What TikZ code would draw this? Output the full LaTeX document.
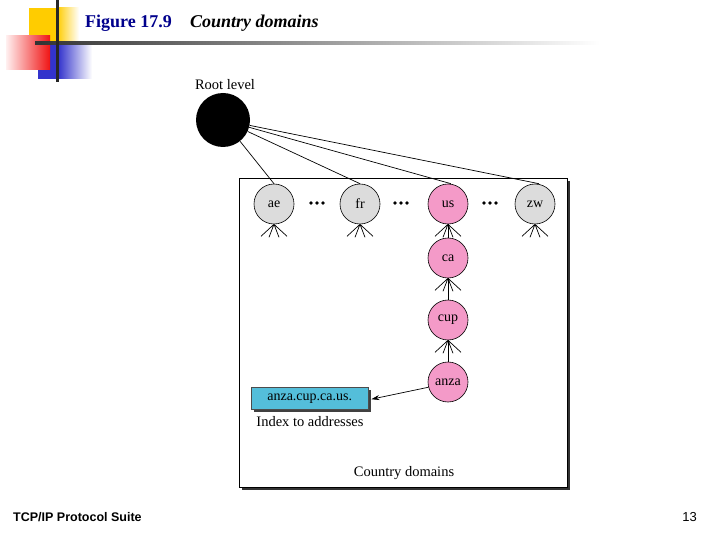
\documentclass[tikz,border=0pt]{standalone}
\usepackage{fontspec}
\setmainfont{Liberation Serif}
\newfontfamily\footfont{Liberation Sans}
\usetikzlibrary{arrows.meta}
\definecolor{yellowc}{RGB}{255,204,0}
\definecolor{bluec}{RGB}{51,51,204}
\definecolor{redc}{RGB}{240,20,20}
\definecolor{navyc}{RGB}{0,0,140}
\definecolor{grayn}{RGB}{220,220,220}
\definecolor{pinkn}{RGB}{244,154,200}
\definecolor{cyanb}{RGB}{84,190,218}
\tikzset{
  dom/.style={circle, draw=black, line width=0.6pt, minimum size=40pt, inner sep=0pt, font=\fontsize{14}{14}\selectfont},
  grey/.style={dom, fill=grayn},
  pink/.style={dom, fill=pinkn},
  link/.style={line width=0.7pt},
  lbl/.style={font=\fontsize{14.5}{15}\selectfont, inner sep=0pt}
}
\newcommand{\fan}[1]{%
  \draw[link] (#1) -- ++(-13,12) (#1) -- ++(-5,13) (#1) -- ++(5,13) (#1) -- ++(13,12);}
\begin{document}
\begin{tikzpicture}[x=1pt,y=-1pt]
\useasboundingbox (0,0) rectangle (720,540);
% decoration
\fill[yellowc] (29,8) rectangle (57,43);
\shade[left color=yellowc,right color=white] (57,8) rectangle (79,43);
\fill[bluec] (38,43) rectangle (58,79);
\shade[left color=bluec,right color=white] (58,43) rectangle (92,79);
\shade[left color=red!6,right color=redc] (6,36) rectangle (50,70);
\shade[left color=black!80,right color=white] (35,41.5) rectangle (600,44.5);
\fill[black!85] (55.5,0) rectangle (58.5,82);
% title
\node[anchor=base west, inner sep=0pt, text=navyc, font=\fontsize{18}{18}\selectfont\bfseries] (fig) at (85,28) {Figure 17.9};
\node[anchor=base west, inner sep=0pt, font=\fontsize{18}{18}\selectfont\bfseries\itshape] (cap) at (190,28) {Country domains};
% frame
\fill[black!80] (242,181) rectangle (570,490);
\draw[fill=white, line width=0.6pt] (239,178) rectangle (567,487);
% root
\node[lbl] (rl) at (225,85) {Root level};
\node[circle, fill=black, minimum size=54pt, inner sep=0pt] (root) at (223,120) {};
% top-level nodes
\node[grey] (ae) at (274,204) {ae};
\node[grey] (fr) at (360,204) {fr};
\node[pink] (us) at (448,204) {us};
\node[grey] (zw) at (535,204) {zw};
\node[pink] (ca) at (448,258) {ca};
\node[pink] (cup) at (448,320) {cup};
\node[pink] (anza) at (448,382) {anza};
% dots
\foreach \cx in {317,401,490}{
  \fill (\cx-6,203) circle (1.8);
  \fill (\cx,203) circle (1.8);
  \fill (\cx+6,203) circle (1.8);
}
% root links
\draw[link] (root) -- (ae.north);
\draw[link] (root) -- (fr.north);
\draw[link] (root) -- ([xshift=3pt]us.north);
\draw[link] (root) -- ([xshift=4pt]zw.north);
% fans
\fan{ae.south}
\fan{fr.south}
\fan{us.south}
\fan{zw.south}
\fan{ca.south}
\fan{cup.south}
\draw[link] (us.south) -- (ca.north);
\draw[link] (ca.south) -- (cup.north);
\draw[link] (cup.south) -- (anza.north);
% address box
\fill[black!75] (254,390) rectangle (371,412);
\node[draw=black!70, fill=cyanb, minimum width=117pt, minimum height=22pt, inner sep=0pt, anchor=north west, font=\fontsize{14}{14}\selectfont] (addr) at (251,387) {anza.cup.ca.us.};
\draw[link, -{Stealth[length=8pt,width=5pt]}] (anza.195) -- ([xshift=3pt,yshift=-1pt]addr.east);
\node[lbl] (idx) at (310,422) {Index to addresses};
\node[lbl] (cd) at (404,473) {Country domains};
% footer
\node[anchor=base west, inner sep=0pt, font=\footfont\fontsize{12.5}{13}\selectfont\bfseries] (ft) at (13,521) {TCP/IP Protocol Suite};
\node[anchor=base east, inner sep=0pt, font=\footfont\fontsize{13}{13}\selectfont] (pg) at (697,521) {13};
\end{tikzpicture}
\end{document}
